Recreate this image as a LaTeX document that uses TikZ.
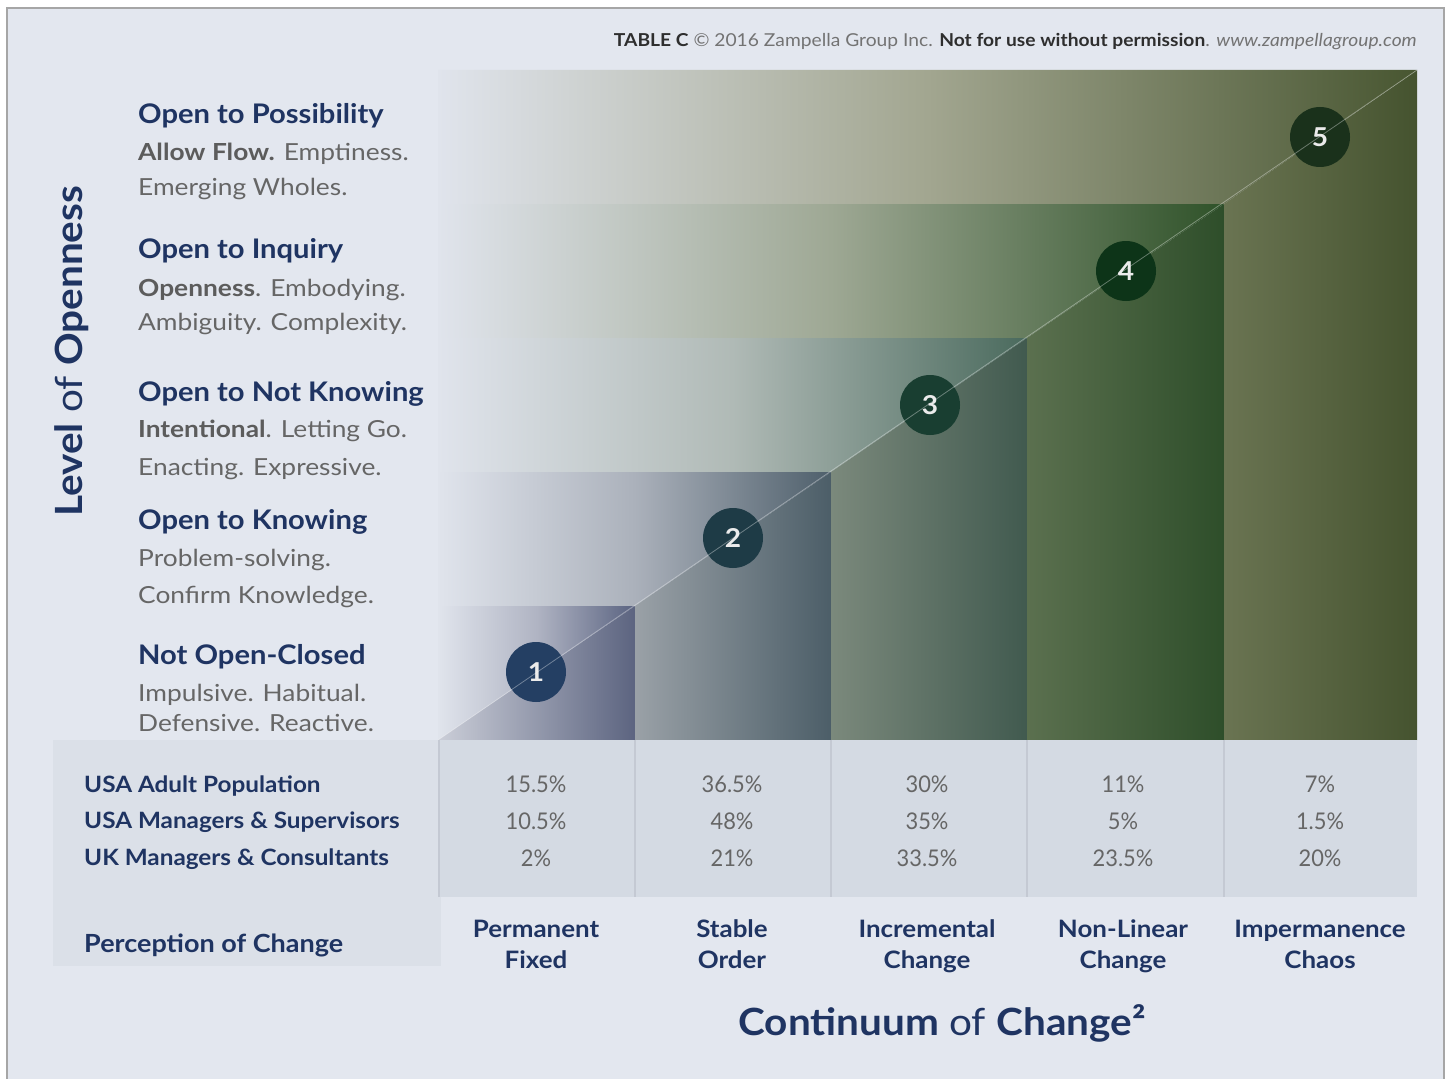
\documentclass[tikz,border=0pt]{standalone}
\usepackage{fontspec}
\setmainfont{Lato}[FakeStretch=1.08]
\newfontfamily\numfont{Lato}[FakeStretch=0.95]
\newfontfamily\subfont{Lato}[FakeStretch=1.12]
\definecolor{bg}{HTML}{E3E7EF}
\definecolor{navy}{HTML}{1F3462}
\definecolor{txtgray}{HTML}{666666}
\definecolor{boldgray}{HTML}{5C5C5C}
\definecolor{panel}{HTML}{DBE0E8}
\definecolor{cell}{HTML}{D4DAE3}
\definecolor{sep}{HTML}{C4C9D3}
\definecolor{frame}{HTML}{A6A6A6}
\definecolor{lightband}{HTML}{E0E4EC}
\definecolor{bfiveR}{HTML}{485631}\definecolor{bfiveM}{HTML}{A2A690}
\definecolor{bfourR}{HTML}{2F5229}\definecolor{bfourM}{HTML}{9EA894}
\definecolor{bthreeR}{HTML}{4A6A5D}\definecolor{bthreeM}{HTML}{B0BAB6}
\definecolor{btwoR}{HTML}{4E5F6B}\definecolor{btwoM}{HTML}{ABB1BB}
\definecolor{boneR}{HTML}{5A6381}\definecolor{boneM}{HTML}{B0B4C3}
\definecolor{coneL}{HTML}{CBCED8}\definecolor{coneR}{HTML}{5C6480}
\definecolor{ctwoL}{HTML}{9AA1A7}\definecolor{ctwoR}{HTML}{4C5E68}
\definecolor{cthreeL}{HTML}{7B897C}\definecolor{cthreeR}{HTML}{415A4F}
\definecolor{cfourL}{HTML}{5B704F}\definecolor{cfourR}{HTML}{2E4E2A}
\definecolor{cfiveL}{HTML}{6A7452}\definecolor{cfiveR}{HTML}{45532F}
\definecolor{kone}{HTML}{243F63}
\definecolor{ktwo}{HTML}{1E3B46}
\definecolor{kthree}{HTML}{193E31}
\definecolor{kfour}{HTML}{0D3418}
\definecolor{kfive}{HTML}{1A311B}
\tikzset{
  stepcircle/.style={circle, minimum size=60pt, inner sep=0pt, text=white!92!black, font=\fontsize{26}{28}\selectfont\bfseries},
  ttl/.style={anchor=base west, inner sep=0pt, text=navy, font=\fontsize{27}{30}\selectfont\bfseries},
  sub/.style={anchor=base west, inner sep=0pt, text=txtgray, font=\subfont\fontsize{23.5}{26}\selectfont},
  rowlbl/.style={anchor=base west, inner sep=0pt, text=navy, font=\fontsize{22.5}{25}\selectfont\bfseries},
  numlbl/.style={anchor=base, inner sep=0pt, text=txtgray, font=\numfont\fontsize{23}{25}\selectfont},
  collbl/.style={anchor=base, inner sep=0pt, text=navy, font=\fontsize{24}{26}\selectfont\bfseries},
}
\begin{document}
\begin{tikzpicture}[x=1pt,y=-1pt]
\useasboundingbox (0,0) rectangle (1447,1078);
\fill[white] (0,0) rectangle (1447,1078);
\fill[bg] (7,8) rectangle (1444,1100);
\draw[frame, line width=1.5pt] (7,1100) -- (7,8) -- (1444,8) -- (1444,1100);

% bands (above diagonal)
\shade[left color=lightband, right color=bfiveR, middle color=bfiveM]
  (438,70) -- (1417,70) -- (1224,204) -- (438,204) -- cycle;
\shade[left color=lightband, right color=bfourR, middle color=bfourM]
  (438,204) -- (1224,204) -- (1027,338) -- (438,338) -- cycle;
\shade[left color=lightband, right color=bthreeR, middle color=bthreeM]
  (438,338) -- (1027,338) -- (831,472) -- (438,472) -- cycle;
\shade[left color=lightband, right color=btwoR, middle color=btwoM]
  (438,472) -- (831,472) -- (635,606) -- (438,606) -- cycle;
\shade[left color=lightband, right color=boneR, middle color=boneM]
  (438,606) -- (635,606) -- (438,740) -- cycle;
% columns (below diagonal)
\shade[left color=coneL, right color=coneR] (438,740) -- (635,606) -- (635,740) -- cycle;
\shade[left color=ctwoL, right color=ctwoR] (635,740) -- (635,606) -- (831,472) -- (831,740) -- cycle;
\shade[left color=cthreeL, right color=cthreeR] (831,740) -- (831,472) -- (1027,338) -- (1027,740) -- cycle;
\shade[left color=cfourL, right color=cfourR] (1027,740) -- (1027,338) -- (1224,204) -- (1224,740) -- cycle;
\shade[left color=cfiveL, right color=cfiveR] (1224,740) -- (1224,204) -- (1417,70) -- (1417,740) -- cycle;

% circles
\node[stepcircle, fill=kone] (s1) at (536,672) {1};
\node[stepcircle, fill=ktwo] (s2) at (733,538) {2};
\node[stepcircle, fill=kthree] (s3) at (930,405) {3};
\node[stepcircle, fill=kfour] (s4) at (1126,271) {4};
\node[stepcircle, fill=kfive] (s5) at (1320,137) {5};
\coordinate (dstart) at (438,740);
\coordinate (dend) at (1417,70);
\draw[white, opacity=0.35, line width=0.8pt] (dstart) -- (dend);

% header
\node[anchor=base east, inner sep=0pt, font=\fontsize{17.8}{19}\selectfont, text=black!55] (hdr) at (1417,47)
  {\textcolor{black!82}{\textbf{TABLE C}} © 2016 Zampella Group Inc. \textcolor{black!82}{\textbf{Not for use without permission}}. \textit{www.zampellagroup.com}};

% axis title
\node[rotate=90, anchor=base west, inner sep=0pt, text=navy, font=\fontsize{37.5}{40}\selectfont] (lvl) at (82,517)
  {\textbf{Level} of \textbf{Openness}};

% left descriptions
\node[ttl] (t5) at (138,124) {Open to Possibility};
\node[sub] (t5a) at (138,161) {\textcolor{boldgray}{\textbf{Allow Flow.}} Emptiness.};
\node[sub] (t5b) at (138,196) {Emerging Wholes.};
\node[ttl] (t4) at (138,258) {Open to Inquiry};
\node[sub] (t4a) at (138,296) {\textcolor{boldgray}{\textbf{Openness}}. Embodying.};
\node[sub] (t4b) at (138,330) {Ambiguity. Complexity.};
\node[ttl] (t3) at (138,401) {Open to Not Knowing};
\node[sub] (t3a) at (138,437) {\textcolor{boldgray}{\textbf{Intentional}}. Letting Go.};
\node[sub] (t3b) at (138,475) {Enacting. Expressive.};
\node[ttl] (t2) at (138,529) {Open to Knowing};
\node[sub] (t2a) at (138,566) {Problem-solving.};
\node[sub] (t2b) at (138,603) {Confirm Knowledge.};
\node[ttl] (t1) at (138,664) {Not Open-Closed};
\node[sub] (t1a) at (138,701) {Impulsive. Habitual.};
\node[sub] (t1b) at (138,731) {Defensive. Reactive.};

% table
\fill[panel] (53,740) rectangle (441,966);
\fill[cell] (438,740) rectangle (1417,897);
\foreach \xx in {439,635,831,1027,1224} \draw[sep, line width=2pt] (\xx,740) -- (\xx,897);

\node[rowlbl] (r1) at (84,792) {USA Adult Population};
\node[rowlbl] (r2) at (84,828) {USA Managers \& Supervisors};
\node[rowlbl] (r3) at (84,865) {UK Managers \& Consultants};
\node[rowlbl, font=\fontsize{25}{27}\selectfont\bfseries] (r4) at (84,952) {Perception of Change};

\foreach \xx/\a/\b/\c [count=\i] in {536/15.5/10.5/2, 732/36.5/48/21, 927/30/35/33.5, 1123/11/5/23.5, 1320/7/1.5/20}{
  \node[numlbl] (na\i) at (\xx,792) {\a\%};
  \node[numlbl] (nb\i) at (\xx,829) {\b\%};
  \node[numlbl] (nc\i) at (\xx,866) {\c\%};
}
\foreach \xx/\a/\b [count=\i] in {536/Permanent/Fixed, 732/Stable/Order, 927/Incremental/Change, 1123/Non-Linear/Change, 1320/Impermanence/Chaos}{
  \node[collbl] (ca\i) at (\xx,937) {\a};
  \node[collbl] (cb\i) at (\xx,968) {\b};
}

\node[anchor=base, inner sep=0pt, text=navy, font=\fontsize{37.5}{40}\selectfont] (cont) at (942,1035)
  {\textbf{Continuum} of \textbf{Change²}};
\end{tikzpicture}
\end{document}
